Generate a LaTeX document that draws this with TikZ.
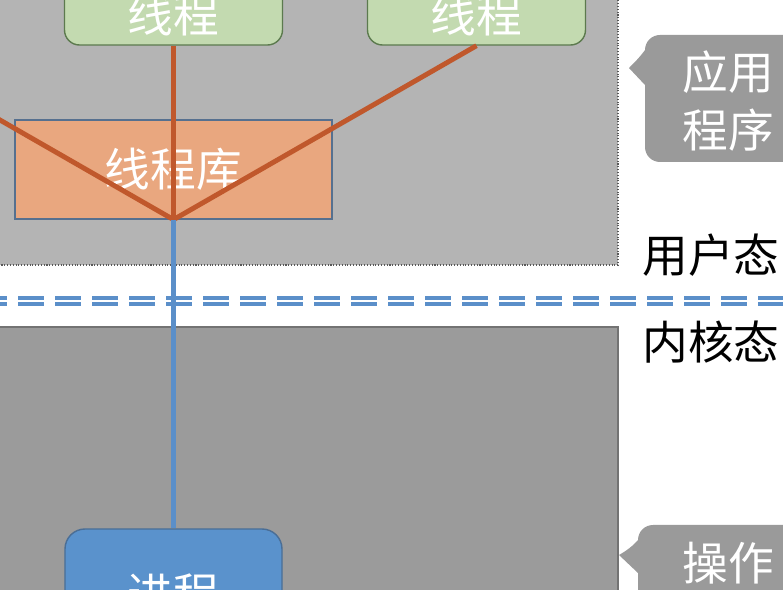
\documentclass[tikz,border=0pt]{standalone}
\usepackage{fontspec}
\setmainfont{Noto Sans CJK SC}

\definecolor{userbg}{HTML}{B4B4B4}
\definecolor{kernbg}{HTML}{9B9B9B}
\definecolor{callgray}{HTML}{9A9A9A}
\definecolor{threadfill}{HTML}{C3DAB0}
\definecolor{threadedge}{HTML}{5C7A4E}
\definecolor{libfill}{HTML}{E9A77F}
\definecolor{libedge}{HTML}{56708F}
\definecolor{procfill}{HTML}{5A92CC}
\definecolor{procedge}{HTML}{4A6E96}
\definecolor{linkbrown}{HTML}{C0582C}
\definecolor{sysblue}{HTML}{5B8FC9}

\tikzset{
	thread/.style = {draw = threadedge, fill = threadfill, line width = 0.8pt, rounded corners = 3mm,
		minimum width = 43.6mm, minimum height = 12mm, text = white},
	libbox/.style = {draw = libedge, fill = libfill, line width = 0.7pt,
		minimum width = 63.4mm, minimum height = 19.8mm, text = white},
	procbox/.style = {draw = procedge, fill = procfill, line width = 0.8pt, rounded corners = 4mm,
		minimum width = 43.4mm, minimum height = 26mm, text = white},
	link/.style = {draw = linkbrown, line width = 2.8pt},
	sysline/.style = {draw = sysblue, line width = 2.8pt},
	modeline/.style = {draw = sysblue, line width = 2pt, dash pattern = on 5.2mm off 2.2mm, dash phase = 3.8mm},
	tag/.style = {text = white, align = center}
}

\begin{document}
\begin{tikzpicture}[x = 0.2mm, y = -0.2mm, font = \fontsize{26}{33}\selectfont]
	\useasboundingbox (0, 0) rectangle (783, 590);
	\clip (0, 0) rectangle (783, 590);
	\fill[white] (0, 0) rectangle (783, 590);

	% user space and kernel space
	\filldraw[fill = userbg, draw = black!65, densely dotted, line width = 0.6pt] (-20, -20) rectangle (618, 265);
	\filldraw[fill = kernbg, draw = black!55, line width = 0.8pt] (-20, 327) rectangle (618, 620);

	\draw[modeline] (0, 298) -- (783, 298);
	\draw[modeline] (0, 304) -- (783, 304);

	% threads, library, process
	\node[thread] (t0) at (-129.5, 15) {线程};
	\node[thread] (t1) at (173.5, 15) {线程};
	\node[thread] (t2) at (476.5, 15) {线程};
	\node[libbox] (lib) at (173.5, 169.5) {线程库};
	\node[procbox] (proc) at (173.5, 594) {进程};

	\draw[link] (lib.south) -- (t0.south);
	\draw[link] (lib.south) -- (t1.south);
	\draw[link] (lib.south) -- (t2.south);
	\draw[sysline] (lib.south) -- (proc.north);

	% callouts on the right
	\fill[callgray, rounded corners = 3mm] (645, 35) rectangle (850, 162);
	\fill[callgray] (645, 50) .. controls (640, 57) and (634, 63) .. (629, 68) -- (645, 85) -- cycle;
	\node[tag] (app) at (728, 101) {应用\\程序};

	\fill[callgray, rounded corners = 3mm] (638, 525) rectangle (850, 640);
	\fill[callgray] (638, 540) .. controls (633, 546) and (626, 551) .. (619, 555) -- (638, 573) -- cycle;
	\node[tag] (os) at (728, 563) {操作};

	\node (user) at (711, 255) {用户态};
	\node (kern) at (711, 342) {内核态};
\end{tikzpicture}
\end{document}
